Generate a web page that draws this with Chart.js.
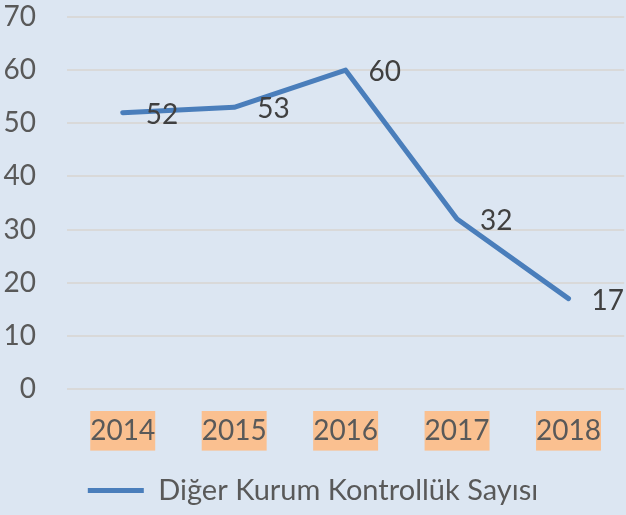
<!DOCTYPE html>
<html>
<head>
<meta charset="utf-8">
<script src="https://cdn.jsdelivr.net/npm/chart.js@4"></script>
<style>
  html, body { margin: 0; padding: 0; background: #dce6f2; }
  #wrap { width: 626px; height: 515px; }
</style>
</head>
<body>
<div id="wrap"><canvas id="myChart" width="626" height="515"></canvas></div>
<script>
const years = ['2014', '2015', '2016', '2017', '2018']
const kontrollukSayisi = [52, 53, 60, 32, 17]
const seriesName = 'Diğer Kurum Kontrollük Sayısı'

const ctx = document.getElementById('myChart').getContext('2d')
const fontFamily = 'Lato, "Open Sans", sans-serif'

// value labels to the right of each point
const valueLabels = {
  id: 'valueLabels',
  afterDatasetsDraw(chart) {
    const c = chart.ctx
    const meta = chart.getDatasetMeta(0)
    c.save()
    c.font = '28px ' + fontFamily
    c.fillStyle = '#404040'
    c.textAlign = 'left'
    c.textBaseline = 'middle'
    meta.data.forEach((pt, i) => {
      c.fillText(String(chart.data.datasets[0].data[i]), pt.x + 23, pt.y + 2)
    })
    c.restore()
  }
}

const myChart = new Chart(ctx, {
  type: 'line',
  data: {
    labels: years,
    datasets: [{
      label: seriesName,
      data: kontrollukSayisi,
      borderColor: '#4a7ebb',
      backgroundColor: '#4a7ebb',
      borderWidth: 5,
      borderCapStyle: 'round',
      borderJoinStyle: 'round',
      pointRadius: 0,
      tension: 0
    }]
  },
  options: {
    responsive: false,
    animation: false,
    layout: { padding: { top: 17, right: 0, left: 0, bottom: 0 } },
    scales: {
      y: {
        min: 0,
        max: 70,
        afterFit: scale => {
          scale.width = 67
          scale.paddingTop = 0
          scale.paddingBottom = 0
        },
        ticks: {
          stepSize: 10,
          padding: 31,
          color: '#595959',
          font: { family: fontFamily, size: 28 }
        },
        grid: { color: '#d9d9d9', lineWidth: 2, drawTicks: false },
        border: { display: false }
      },
      x: {
        offset: true,
        afterFit: scale => { scale.height = 77 },
        ticks: {
          padding: 25,
          color: '#595959',
          font: { family: fontFamily, size: 28 },
          showLabelBackdrop: true,
          backdropColor: '#fac090',
          backdropPadding: { top: 3, bottom: 3, left: 0, right: 0 }
        },
        grid: { display: false, drawTicks: false },
        border: { display: false }
      }
    },
    plugins: {
      legend: {
        position: 'bottom',
        labels: {
          usePointStyle: true,
          pointStyle: 'line',
          pointStyleWidth: 56,
          color: '#595959',
          font: { family: fontFamily, size: 29 },
          padding: 10
        }
      },
      tooltip: { enabled: false }
    }
  },
  plugins: [valueLabels]
})
</script>
</body>
</html>
